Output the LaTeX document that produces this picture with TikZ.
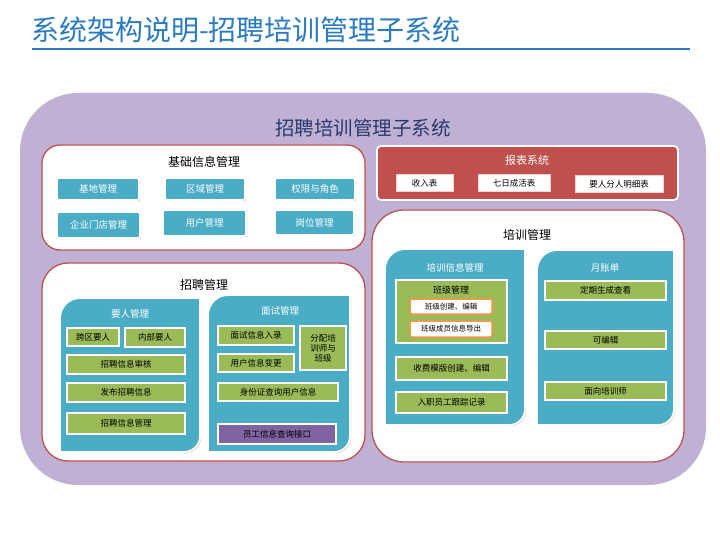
\documentclass[tikz,border=0pt]{standalone}
\usepackage{fontspec}
\setmainfont{Noto Sans CJK SC}
\usetikzlibrary{shadows}
\definecolor{lavfill}{HTML}{BEB1D4}
\definecolor{redline}{HTML}{C0504D}
\definecolor{cyanfill}{HTML}{4BACC6}
\definecolor{greenfill}{HTML}{9BBB59}
\definecolor{purplefill}{HTML}{8064A2}
\definecolor{orangeline}{HTML}{F79646}
\definecolor{titleblue}{HTML}{2A7BC0}
\definecolor{navytext}{HTML}{283A6B}
\tikzset{sz/.style 2 args={minimum width=#1, minimum height=#2}}
\tikzset{shade/.style={drop shadow={opacity=0.35, shadow xshift=1.2pt, shadow yshift=-1.2pt}}}
\tikzset{groupbox/.style={fill=white, draw=redline, line width=1.3pt}}
\tikzset{grouptitle/.style={font=\fontsize{12}{13}\selectfont, text=black}}
\tikzset{paneltitle/.style={font=\fontsize{9.5}{10}\selectfont, text=white}}
\tikzset{panel/.style={fill=cyanfill, draw=white, line width=1.8pt, shade}}
\tikzset{cyanitem/.style={fill=cyanfill, draw=white, line width=1.8pt, rounded corners=2,
    shade, inner sep=0, text=white, font=\fontsize{9.5}{10}\selectfont}}
\tikzset{greenitem/.style={fill=greenfill, draw=white, line width=1.8pt, shade, inner sep=0,
    text=black, font=\fontsize{8.5}{10}\selectfont}}
\tikzset{reportitem/.style={fill=white, draw=white!75!redline, line width=1pt, inner sep=0,
    text=black, font=\fontsize{8.5}{10}\selectfont}}
\tikzset{classitem/.style={fill=white, draw=orangeline, line width=1.5pt, rounded corners=2,
    inner sep=0, text=black, font=\fontsize{7.5}{9}\selectfont}}
\begin{document}
\begin{tikzpicture}[x=1pt, y=-1pt]
  \useasboundingbox (0,0) rectangle (720,540);
  % page title
  \node[anchor=west, text=titleblue, font=\fontsize{28}{29}\selectfont, inner sep=0] (title) at (31,30) {系统架构说明-招聘培训管理子系统};
  \draw[titleblue, line width=2pt, shade] (32,49) -- (690,49);

  % outer system frame
  \fill[lavfill, rounded corners=58] (20,93) rectangle (706,485);
  \node[text=navytext, font=\fontsize{19.5}{20}\selectfont] (sys) at (363,128) {招聘培训管理子系统};

  % basic information
  \draw[groupbox, rounded corners=18] (42,145) rectangle (365,250);
  \node[grouptitle] (basic) at (204,162) {基础信息管理};
  \node[cyanitem, sz={82}{22}] (b1) at (98,189) {基地管理};
  \node[cyanitem, sz={80}{22}] (b2) at (205,189) {区域管理};
  \node[cyanitem, sz={80}{22}] (b3) at (315,189) {权限与角色};
  \node[cyanitem, sz={83}{26}] (b4) at (98.5,225) {企业门店管理};
  \node[cyanitem, sz={83}{26}] (b5) at (204.5,223) {用户管理};
  \node[cyanitem, sz={79}{25}] (b6) at (314.5,222.5) {岗位管理};

  % report system
  \draw[fill=redline, draw=white, line width=1.8pt, rounded corners=4, shade] (377,146) rectangle (678,200);
  \node[text=white, font=\fontsize{11}{12}\selectfont] (report) at (527,160) {报表系统};
  \node[reportitem, sz={57}{17}] (r1) at (424.5,183.5) {收入表};
  \node[reportitem, sz={72}{17}] (r2) at (514,183.5) {七日成活表};
  \node[reportitem, sz={88}{17}] (r3) at (619,184.5) {要人分人明细表};

  % recruitment
  \draw[groupbox, rounded corners=26] (42,263) rectangle (365,461);
  \node[grouptitle] (recruit) at (204,285) {招聘管理};
  \path[panel] (80,298) -- (200,298) -- (200,436) .. controls (200,445) and (193,452) .. (184,452)
    -- (60,452) -- (60,318) .. controls (60,307) and (69,298) .. (80,298) -- cycle;
  \node[paneltitle] (demand) at (130,314) {要人管理};
  \node[greenitem, sz={52}{18}] (d1) at (93,337) {跨区要人};
  \node[greenitem, sz={60}{19}] (d2) at (155,337.5) {内部要人};
  \node[greenitem, sz={118}{19}] (d3) at (126,364.5) {招聘信息审核};
  \node[greenitem, sz={118}{19}] (d4) at (126,392.5) {发布招聘信息};
  \node[greenitem, sz={118}{21}] (d5) at (126,423.5) {招聘信息管理};
  \path[panel] (228,295) -- (350,295) -- (350,436) .. controls (350,445) and (343,452) .. (334,452)
    -- (208,452) -- (208,315) .. controls (208,304) and (217,295) .. (228,295) -- cycle;
  \node[paneltitle] (interview) at (280,311) {面试管理};
  \node[greenitem, sz={76}{19}] (i1) at (256,335.5) {面试信息入录};
  \node[greenitem, sz={76}{18}] (i2) at (256,363) {用户信息变更};
  \node[greenitem, sz={46}{44}, align=center] (i3) at (323,348) {分配培\\训师与\\班级};
  \node[greenitem, sz={120}{18}] (i4) at (278,392) {身份证查询用户信息};
  \node[greenitem, fill=purplefill, sz={118}{20}] (i5) at (277,434) {员工信息查询接口};

  % training
  \draw[groupbox, rounded corners=32] (372,210) rectangle (684,462);
  \node[grouptitle] (train) at (527,235) {培训管理};
  \path[panel] (405,249) -- (525,249) -- (525,409) .. controls (525,418) and (518,425) .. (509,425)
    -- (385,425) -- (385,269) .. controls (385,258) and (394,249) .. (405,249) -- cycle;
  \node[paneltitle] (tinfo) at (455,268) {培训信息管理};
  \draw[fill=greenfill, draw=white, line width=1.8pt, shade] (396,280) rectangle (507,343);
  \node[text=black, font=\fontsize{9}{10}\selectfont] (cls) at (451,290) {班级管理};
  \node[classitem, sz={82}{15}] (c1) at (451,306.5) {班级创建、编辑};
  \node[classitem, sz={82}{16}] (c2) at (451,329) {班级成员信息导出};
  \node[greenitem, sz={111}{23}] (t1) at (451.5,368.5) {收费模版创建、编辑};
  \node[greenitem, sz={111}{21}] (t2) at (451.5,402.5) {入职员工跟踪记录};
  \path[panel] (557,250) -- (674,250) -- (674,409) .. controls (674,418) and (667,425) .. (658,425)
    -- (537,425) -- (537,270) .. controls (537,259) and (546,250) .. (557,250) -- cycle;
  \node[paneltitle] (bill) at (605,268) {月账单};
  \node[greenitem, sz={121}{19}] (m1) at (605.5,290.5) {定期生成查看};
  \node[greenitem, sz={121}{18}] (m2) at (605.5,340) {可编辑};
  \node[greenitem, sz={121}{18}] (m3) at (605.5,391) {面向培训师};
\end{tikzpicture}
\end{document}
